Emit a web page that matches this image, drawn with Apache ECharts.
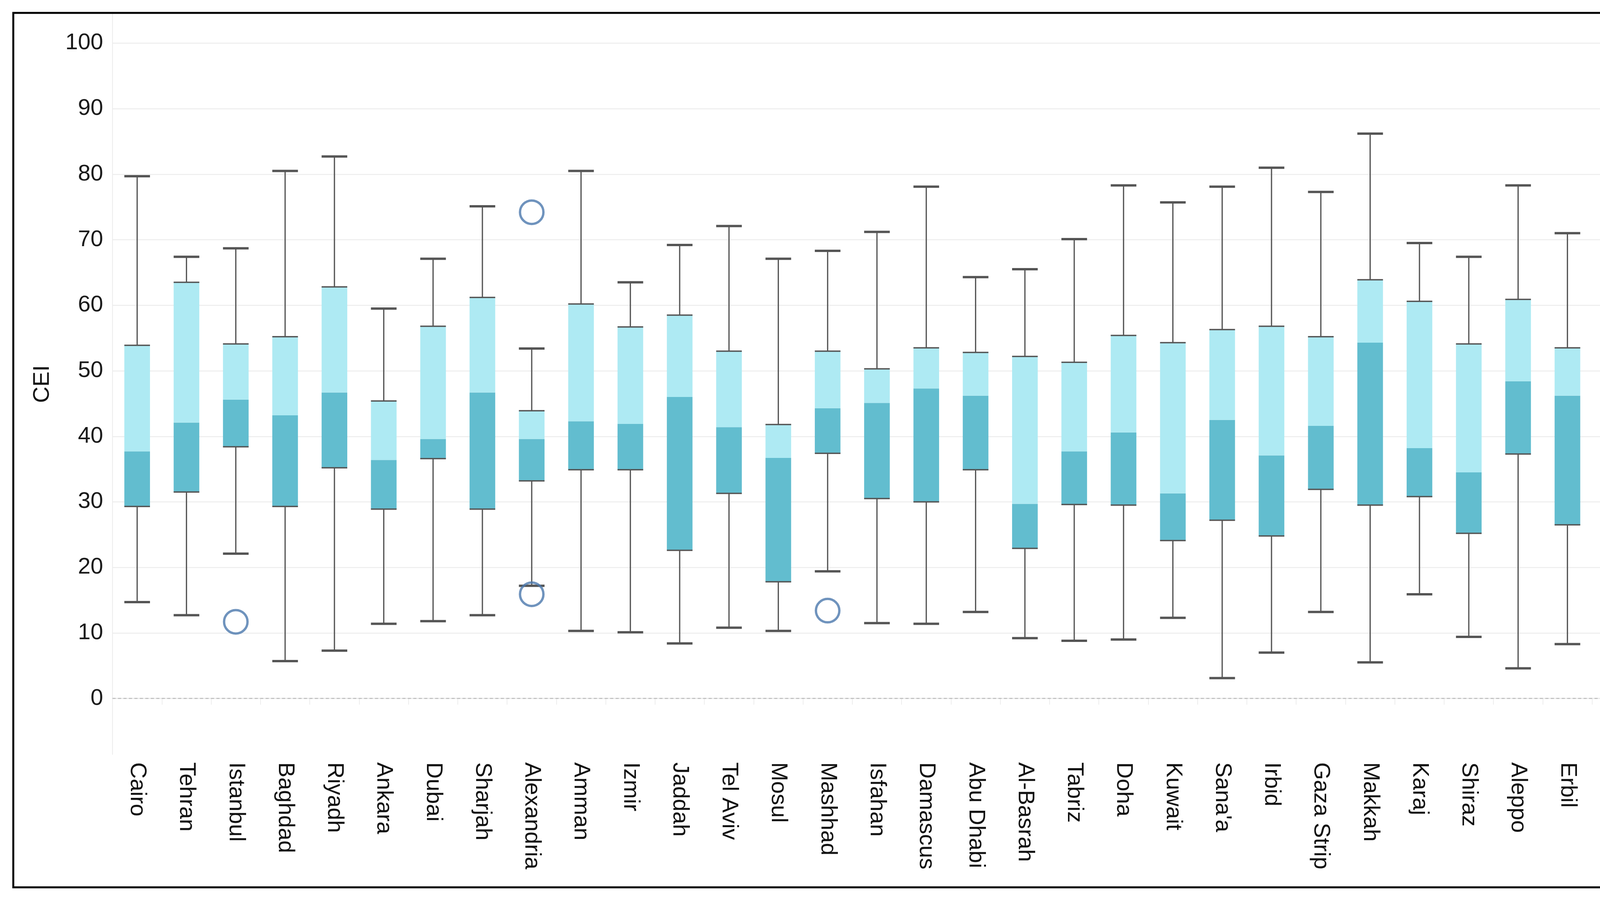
<!DOCTYPE html>
<html>
<head>
<meta charset="utf-8">
<script src="https://cdn.jsdelivr.net/npm/echarts@6/dist/echarts.min.js"></script>
<style>
html,body{margin:0;padding:0;background:#fff;overflow:hidden;}
#chart{width:4264px;height:2306px;}
</style>
</head>
<body>
<div id="chart"></div>
<script>
var categories = ["Cairo","Tehran","Istanbul","Baghdad","Riyadh","Ankara","Dubai","Sharjah","Alexandria","Amman","Izmir","Jaddah","Tel Aviv","Mosul","Mashhad","Isfahan","Damascus","Abu Dhabi","Al-Basrah","Tabriz","Doha","Kuwait","Sana'a","Irbid","Gaza Strip","Makkah","Karaj","Shiraz","Aleppo","Erbil","Najaf"];
var mins    = [14.7,12.7,22.1,5.7,7.3,11.4,11.8,12.7,17.2,10.3,10.1,8.4,10.8,10.3,19.4,11.5,11.4,13.2,9.2,8.8,9.0,12.3,3.1,7.0,13.2,5.5,15.9,9.4,4.6,8.3,10.1];
var q1s     = [29.3,31.5,38.4,29.3,35.2,28.9,36.6,28.9,33.2,34.9,34.9,22.6,31.3,17.8,37.4,30.5,30.0,34.9,22.9,29.6,29.5,24.1,27.2,24.8,31.9,29.5,30.8,25.2,37.3,26.5,27.6];
var medians = [37.7,42.1,45.6,43.2,46.7,36.4,39.6,46.7,39.6,42.3,41.9,46.0,41.4,36.7,44.3,45.1,47.3,46.2,29.7,37.7,40.6,31.3,42.5,37.1,41.6,54.3,38.2,34.5,48.4,46.2,39.3];
var q3s     = [53.9,63.5,54.1,55.2,62.8,45.4,56.8,61.2,43.9,60.2,56.7,58.5,53.0,41.8,53.0,50.3,53.5,52.8,52.2,51.3,55.4,54.3,56.3,56.8,55.2,63.9,60.6,54.1,60.9,53.5,58.3];
var maxs    = [79.7,67.4,68.7,80.5,82.7,59.5,67.1,75.1,53.4,80.5,63.5,69.2,72.1,67.1,68.3,71.2,78.1,64.3,65.5,70.1,78.3,75.7,78.1,81.0,77.3,86.2,69.5,67.4,78.3,71.0,72.3];
// outliers: [category index, value]
var outliers = [[2,11.7],[8,74.2],[8,15.9],[14,13.4]];
var yTickValues = [0,10,20,30,40,50,60,70,80,90,100];
</script>
<script>
var n = categories.length;
var boxData = [];
for (var i = 0; i < n; i++) {
  boxData.push([i, mins[i], q1s[i], medians[i], q3s[i], maxs[i]]);
}
var DARK = '#62bdcf', LIGHT = '#aeeaf3', WHISK = '#555555';
var chart = echarts.init(document.getElementById('chart'), null, {renderer:'canvas'});
var font = "'Liberation Sans', Arial, sans-serif";
var option = {
  backgroundColor: '#ffffff',
  animation: false,
  grid: {left: 288, right: 62, top: 35, bottom: 375, containLabel: false},
  graphic: [{
    type: 'rect', z: 100, silent: true,
    shape: {x: 34, y: 33, width: 4197, height: 2238},
    style: {fill: null, stroke: '#000', lineWidth: 5}
  }],
  xAxis: {
    type: 'category',
    data: categories,
    boundaryGap: true,
    axisLine: {show: true, lineStyle: {color: '#ebebeb', width: 3}},
    axisTick: {show: true, length: 16, lineStyle: {color: '#ededed', width: 2}},
    axisLabel: {rotate: -90, interval: 0, fontSize: 58, color: '#111', fontFamily: font, margin: 20},
    splitLine: {show: false}
  },
  yAxis: {
    type: 'value',
    min: -8.55,
    max: 104.5,
    name: 'CEI',
    nameLocation: 'middle',
    nameRotate: 90,
    nameGap: 150,
    nameTextStyle: {fontSize: 58, color: '#111', fontFamily: font},
    axisLine: {show: true, lineStyle: {color: '#ececec', width: 2}},
    axisTick: {show: false, customValues: yTickValues.slice(1)},
    axisLabel: {customValues: yTickValues, fontSize: 58, color: '#1a1a1a', fontFamily: font, margin: 24},
    splitLine: {show: true, lineStyle: {color: '#ededed', width: 2.5}}
  },
  series: [
    {
      type: 'custom',
      name: 'CEI',
      data: boxData,
      encode: {x: 0, y: [1,2,3,4,5]},
      z: 5,
      renderItem: function (params, api) {
        var x = api.value(0);
        var lo = api.coord([x, api.value(1)]);
        var q1 = api.coord([x, api.value(2)]);
        var md = api.coord([x, api.value(3)]);
        var q3 = api.coord([x, api.value(4)]);
        var hi = api.coord([x, api.value(5)]);
        var w = api.size([1, 0])[0] * 0.52;
        var cx = lo[0], L = cx - w / 2;
        var ws = {stroke: WHISK, lineWidth: 3.2};
        var cs = {stroke: WHISK, lineWidth: 6};
        return {type: 'group', children: [
          {type: 'line', shape: {x1: cx, y1: lo[1], x2: cx, y2: q1[1]}, style: ws},
          {type: 'line', shape: {x1: cx, y1: q3[1], x2: cx, y2: hi[1]}, style: ws},
          {type: 'rect', shape: {x: L, y: md[1], width: w, height: q1[1] - md[1]}, style: {fill: DARK}},
          {type: 'rect', shape: {x: L, y: q3[1], width: w, height: md[1] - q3[1]}, style: {fill: LIGHT}},
          {type: 'line', shape: {x1: L, y1: q1[1], x2: L + w, y2: q1[1]}, style: {stroke: WHISK, lineWidth: 3.5}},
          {type: 'line', shape: {x1: L, y1: q3[1], x2: L + w, y2: q3[1]}, style: {stroke: WHISK, lineWidth: 3.5}},
          {type: 'line', shape: {x1: L, y1: lo[1], x2: L + w, y2: lo[1]}, style: cs},
          {type: 'line', shape: {x1: L, y1: hi[1], x2: L + w, y2: hi[1]}, style: cs}
        ]};
      }
    },
    {
      type: 'scatter',
      name: 'Outliers',
      data: outliers,
      z: 6,
      symbol: 'circle',
      symbolSize: 60,
      itemStyle: {color: 'rgba(0,0,0,0)', borderColor: '#4b78ad', borderWidth: 6},
      markLine: {
        silent: true,
        symbol: 'none',
        label: {show: false},
        lineStyle: {type: [8, 6], color: '#bdbdbd', width: 2.5},
        data: [{yAxis: 0}]
      }
    }
  ]
};
chart.setOption(option);
</script>
</body>
</html>
